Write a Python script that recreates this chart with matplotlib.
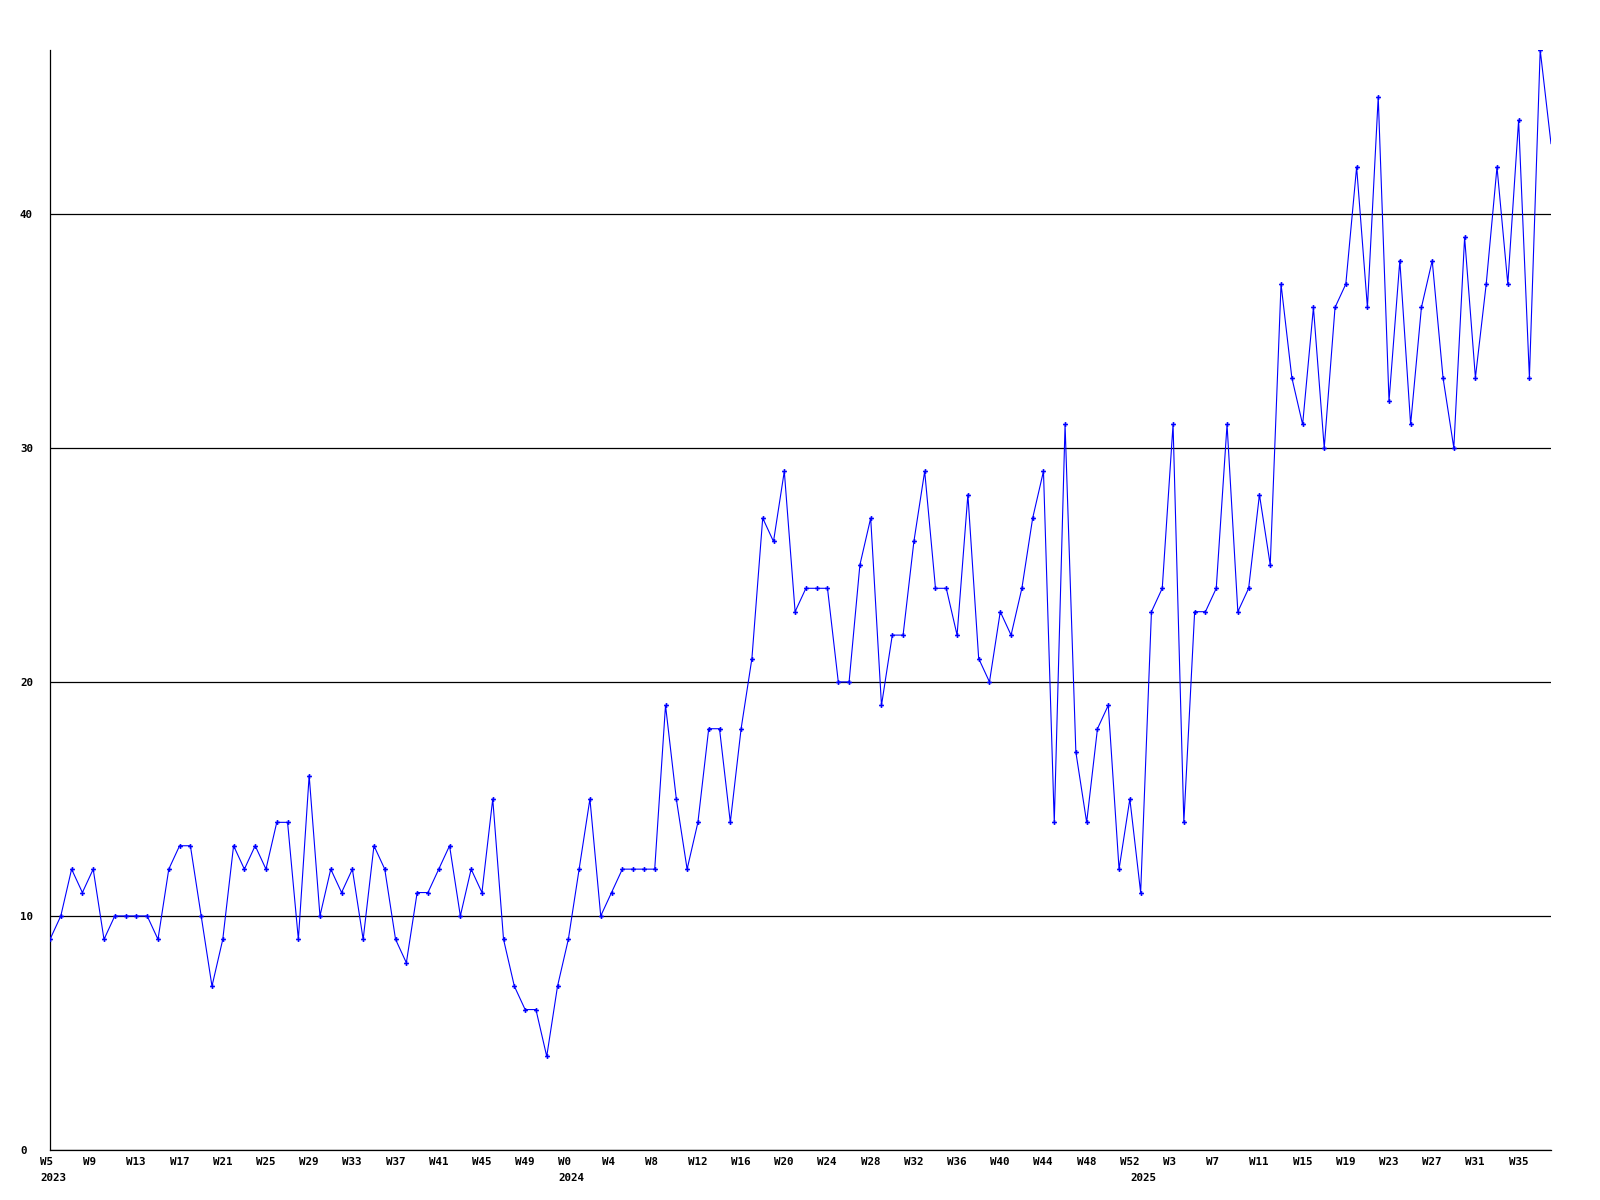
# Weekly counts, 2023 W5 .. 2025 W38, drawn like the old GD style chart.

import matplotlib
matplotlib.use("Agg")
import matplotlib.pyplot as plt
from matplotlib.transforms import offset_copy

# one entry per plotted week
periods = ([(2023, w) for w in range(5, 53)] +
           [(2024, w) for w in range(0, 53)] +
           [(2025, w) for w in range(0, 39)])

counts = [
    9, 10, 12, 11, 12, 9, 10, 10, 10, 10, 9, 12, 13, 13, 10, 7, 9, 13, 12, 13,
    12, 14, 14, 9, 16, 10, 12, 11, 12, 9, 13, 12, 9, 8, 11, 11, 12, 13, 10, 12,
    11, 15, 9, 7, 6, 6, 4, 7, 9, 12, 15, 10, 11, 12, 12, 12, 12, 19, 15, 12,
    14, 18, 18, 14, 18, 21, 27, 26, 29, 23, 24, 24, 24, 20, 20, 25, 27, 19, 22, 22,
    26, 29, 24, 24, 22, 28, 21, 20, 23, 22, 24, 27, 29, 14, 31, 17, 14, 18, 19, 12,
    15, 11, 23, 24, 31, 14, 23, 23, 24, 31, 23, 24, 28, 25, 37, 33, 31, 36, 30, 36,
    37, 42, 36, 45, 32, 38, 31, 36, 38, 33, 30, 39, 33, 37, 42, 37, 44, 33, 47, 43,
]

y_ticks = [0, 10, 20, 30, 40]

FONT = dict(family="DejaVu Sans Mono", weight="bold", size=7.8)

x = list(range(len(counts)))

fig = plt.figure(figsize=(16, 12), dpi=100)
ax = fig.add_axes([50 / 1600, 50 / 1200, 1501 / 1600, 1100 / 1200])

# last (current) week is drawn without a marker
ax.plot(x, counts, color="#0000ff", lw=0.8, marker="P", markersize=3.5,
        markeredgewidth=0, markevery=list(range(len(counts) - 1)), zorder=3)

ax.set_xlim(0, len(counts) - 1)
ax.set_ylim(0, max(counts))

ax.spines["top"].set_visible(False)
ax.spines["right"].set_visible(False)
ax.spines["left"].set_linewidth(0.9)
ax.spines["bottom"].set_linewidth(0.9)

ax.set_yticks(y_ticks)
ax.set_yticklabels([str(v) for v in y_ticks], fontdict=FONT)
ax.tick_params(axis="y", length=0, pad=21.6)
for lab in ax.get_yticklabels():
    lab.set_horizontalalignment("left")
ax.grid(axis="y", color="black", lw=0.9)
ax.set_axisbelow(True)

# x labels: week every 4th point, year under the first week of each year
ax.set_xticks([])
week_tr = offset_copy(ax.get_xaxis_transform(), fig=fig, x=-10, y=-7, units="dots")
year_tr = offset_copy(ax.get_xaxis_transform(), fig=fig, x=-10, y=-23, units="dots")
for i, (yr, wk) in enumerate(periods):
    if i % 4 == 0:
        ax.text(i, 0, "W%d" % wk, transform=week_tr, ha="left", va="top", **FONT)
    if i == 0 or periods[i - 1][0] != yr:
        ax.text(i, 0, str(yr), transform=year_tr, ha="left", va="top", **FONT)

fig.savefig("out.png", dpi=100)
